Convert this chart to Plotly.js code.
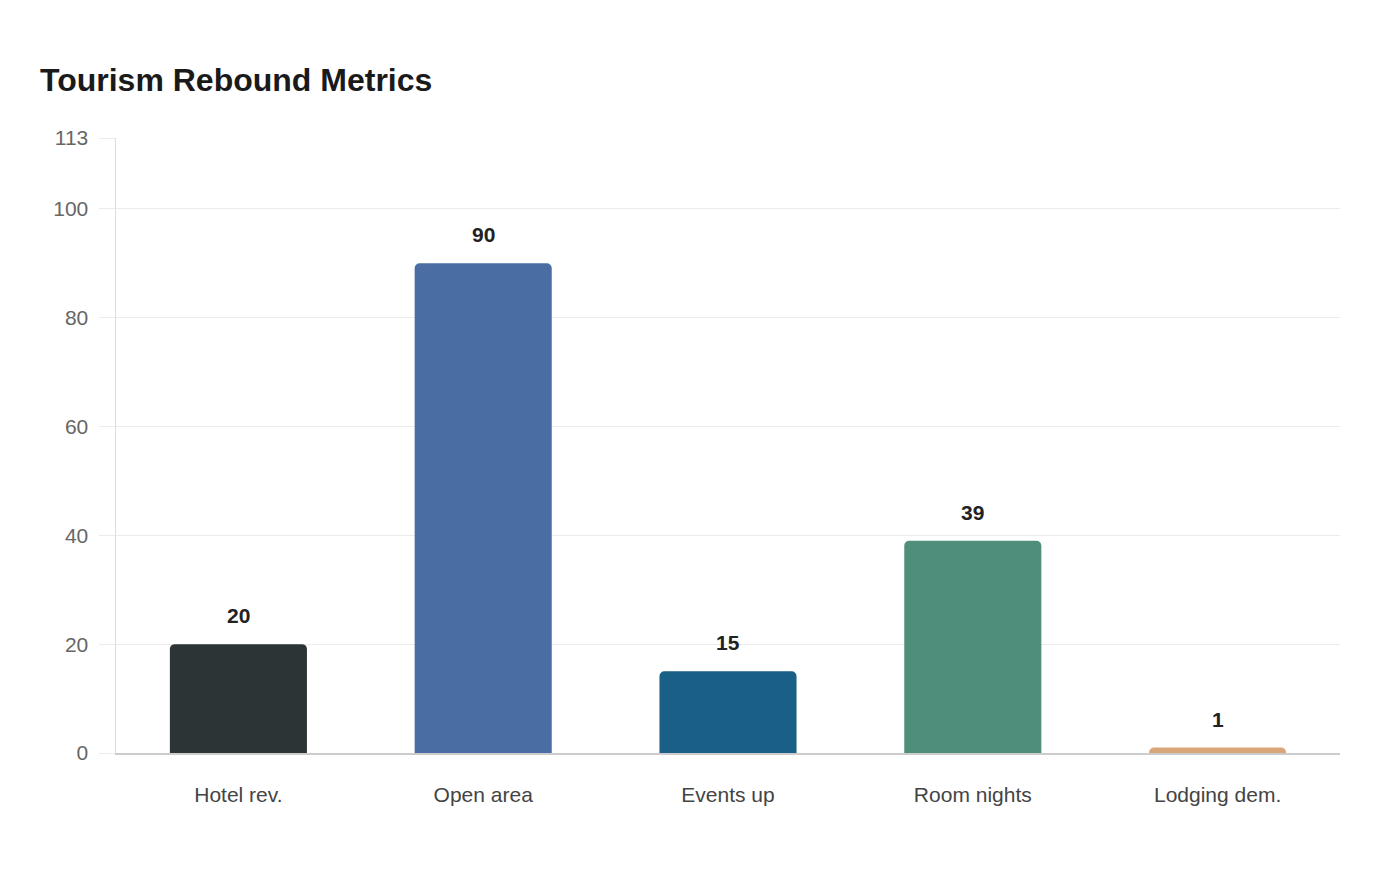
<!DOCTYPE html>
<html>
<head>
<meta charset="utf-8">
<script src="https://cdn.plot.ly/plotly-3.0.1.min.js"></script>
<style>
  html, body { margin: 0; padding: 0; background: #ffffff; }
  #chart { width: 1400px; height: 880px; }
</style>
</head>
<body>
<div id="chart"></div>
<script>
// tourism rebound figures, one bar per metric
const metric_names = ["Hotel rev.", "Open area", "Events up", "Room nights", "Lodging dem."];
const metric_values = [20, 90, 15, 39, 1];
const bar_colors = ["#2d3436", "#4a6da4", "#1a5f85", "#4e8e7b", "#d9a679"];
const y_tick_vals = [0, 20, 40, 60, 80, 100, 113];
const y_max = 113;

function tourism_init()
{
    const chart_div = document.getElementById("chart");
    const font_family = "'Liberation Sans', Arial, sans-serif";

    const bars = {
        type: "bar",
        x: metric_names,
        y: metric_values,
        marker: {color: bar_colors, cornerradius: 5, line: {width: 0}},
        hoverinfo: "x+y"
    };

    // value labels sit above each bar
    const value_labels = metric_names.map((name, i) => ({
        x: name, y: metric_values[i], xref: "x", yref: "y",
        text: "<b>" + metric_values[i] + "</b>",
        showarrow: false, yanchor: "bottom", yshift: 15,
        font: {family: font_family, size: 21, color: "#222222"}
    }));

    const layout = {
        width: 1400, height: 880,
        paper_bgcolor: "#ffffff", plot_bgcolor: "#ffffff",
        margin: {l: 116, r: 60, t: 138, b: 127},
        showlegend: false,
        bargap: 0.44,
        font: {family: font_family},
        title: {
            text: "<b>Tourism Rebound Metrics</b>",
            x: 40 / 1400, xref: "container", xanchor: "left",
            y: 1 - 80 / 880, yref: "container", yanchor: "middle",
            font: {family: font_family, size: 32, color: "#1a1a1a"}
        },
        xaxis: {
            showgrid: false, zeroline: false,
            showline: true, linecolor: "#cccccc", linewidth: 1.5,
            ticks: "outside", ticklen: 22, tickcolor: "rgba(0,0,0,0)",
            tickfont: {size: 21, color: "#444444"}
        },
        yaxis: {
            range: [0, y_max], tickvals: y_tick_vals,
            showgrid: true, gridcolor: "#ebebeb", gridwidth: 1,
            zeroline: false,
            showline: true, linecolor: "#dddddd", linewidth: 1.5,
            ticks: "outside", ticklen: 16, tickcolor: "#ebebeb",
            ticklabelstandoff: 6,
            tickfont: {size: 21, color: "#666666"}
        },
        annotations: value_labels
    };

    Plotly.newPlot(chart_div, [bars], layout, {displayModeBar: false, staticPlot: true});
}

tourism_init();
</script>
</body>
</html>
